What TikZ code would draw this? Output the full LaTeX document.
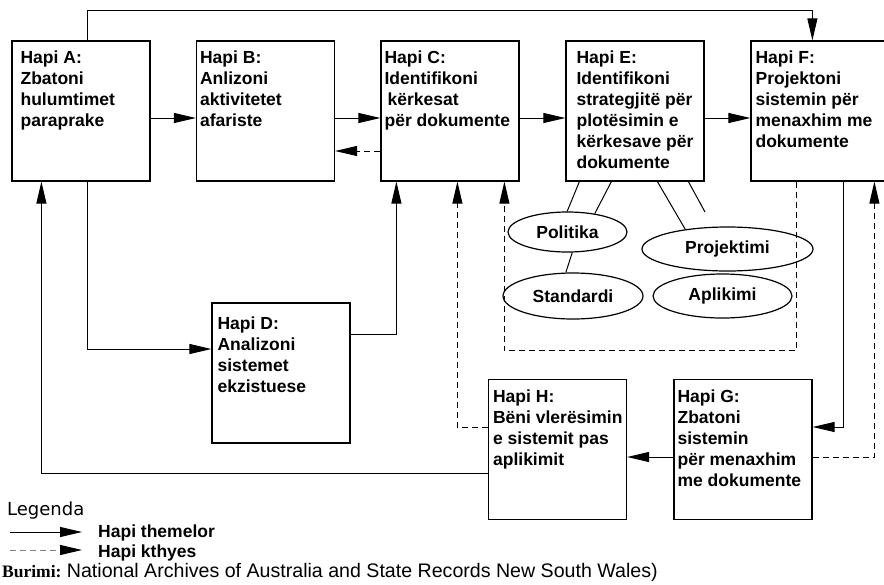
\documentclass[tikz,border=0pt]{standalone}
\usepackage{fontspec}
\setmainfont{Liberation Sans}
\newfontfamily\legfont{DejaVu Sans}
\newfontfamily\srcfont{Liberation Serif}
\usetikzlibrary{arrows.meta,calc,positioning,shapes.geometric}

\begin{document}
\begin{tikzpicture}[x=1pt,y=-1pt,
  stepbox/.style={draw,line width=1.2pt,minimum width=138pt,minimum height=140pt,inner sep=0pt},
  steptext/.style={anchor=north west,inner sep=0pt,align=left,font=\fontsize{17.5}{21}\selectfont\bfseries},
  optbox/.style={draw,ellipse,line width=1.2pt,inner sep=0pt,font=\fontsize{17.5}{21}\selectfont\bfseries},
  mainarrow/.style={line width=1pt,-{Triangle[length=22pt,width=10pt]}},
  backarrow/.style={mainarrow,dash pattern=on 6pt off 4pt},
  link/.style={line width=1pt},
  legtext/.style={anchor=base west,inner sep=0pt,font=\fontsize{17.5}{21}\selectfont\bfseries}]
  \useasboundingbox (0,0) rectangle (884,584);

  \node[stepbox] (A) at (81,111) {};
  \node[stepbox] (B) at (265.5,111) {};
  \node[stepbox] (C) at (450,111) {};
  \node[stepbox] (E) at (635,111) {};
  \node[stepbox] (F) at (820,111) {};
  \node[stepbox] (D) at (281,373) {};
  \node[stepbox] (H) at (557.5,449.5) {};
  \node[stepbox] (G) at (743,449.5) {};

  \node[steptext] (A-t) at ([shift={(9pt,-10pt)}]A.north west) {Hapi A:\\Zbatoni\\hulumtimet\\paraprake};
  \node[steptext] (B-t) at ([shift={(4pt,-10pt)}]B.north west) {Hapi B:\\Anlizoni\\aktivitetet\\afariste};
  \node[steptext] (C-t) at ([shift={(4pt,-10pt)}]C.north west) {Hapi C:\\Identifikoni\\\hspace{3pt}kërkesat\\për dokumente};
  \node[steptext] (E-t) at ([shift={(11pt,-10pt)}]E.north west) {Hapi E:\\Identifikoni\\strategjitë për\\plotësimin e\\kërkesave për\\dokumente};
  \node[steptext] (F-t) at ([shift={(5pt,-10pt)}]F.north west) {Hapi F:\\Projektoni\\sistemin për\\menaxhim me\\dokumente};
  \node[steptext] (D-t) at ([shift={(6pt,-14pt)}]D.north west) {Hapi D:\\Analizoni\\sistemet\\ekzistuese};
  \node[steptext] (H-t) at ([shift={(5pt,-11pt)}]H.north west) {Hapi H:\\Bëni vlerësimin\\e sistemit pas\\aplikimit};
  \node[steptext] (G-t) at ([shift={(4pt,-11pt)}]G.north west) {Hapi G:\\Zbatoni\\sistemin\\për menaxhim\\me dokumente};

  \node[optbox,minimum width=119pt,minimum height=40pt] (pol) at (567.5,232) {Politika};
  \node[optbox,minimum width=171pt,minimum height=44pt] (proj) at (727.5,249) {Projektimi};
  \node[optbox,minimum width=140pt,minimum height=46pt] (std) at (573,296) {Standardi};
  \node[optbox,minimum width=139pt,minimum height=44pt] (apl) at (722.5,296) {Aplikimi};

  \coordinate (A-up) at ([xshift=76pt]A.north west);
  \coordinate (A-down) at ([xshift=76pt]A.south west);
  \coordinate (F-in) at ([xshift=62pt]F.north west);
  \coordinate (E-end) at (705,212);

  \draw[mainarrow] (A-up) -- ++(0,-30) -| (F-in);
  \draw[mainarrow] ([yshift=-7pt]A.east) -- ([yshift=-7pt]B.west);
  \draw[mainarrow] ([yshift=-7pt]B.east) -- ([yshift=-7pt]C.west);
  \draw[mainarrow] ([yshift=-7pt]C.east) -- ([yshift=-7pt]E.west);
  \draw[mainarrow] ([yshift=-7pt]E.east) -- ([yshift=-7pt]F.west);
  \draw[backarrow] ([yshift=-40pt]C.west) -- ([yshift=-40pt]B.east);
  \draw[mainarrow] (A-down) |- ([yshift=24pt]D.west);
  \draw[mainarrow] ([yshift=39pt]D.east) -| ([xshift=16pt]C.south west);
  \draw[mainarrow] ([yshift=-23.5pt]H.west) -| ([xshift=30pt]A.south west);
  \draw[mainarrow] ([xshift=93pt]F.south west) |- ([yshift=22.5pt]G.east);
  \draw[mainarrow] ([yshift=-7.5pt]G.west) -- ([yshift=-7.5pt]H.east);
  \draw[backarrow] ([yshift=-7.5pt]G.east) -| ([xshift=124pt]F.south west);
  \draw[backarrow] ([yshift=22.5pt]H.west) -| ([xshift=77pt]C.south west);
  \draw[backarrow] ([xshift=46pt]F.south west) -- ++(0,169) -| ([xshift=124pt]C.south west);

  \draw[link] ([xshift=14pt]E.south west) -- (pol.91);
  \draw[link] ([xshift=46pt]E.south west) -- (pol.34);
  \draw[link] ([xshift=92pt]E.south west) -- (proj.155);
  \draw[link] ([xshift=123pt]E.south west) -- (E-end);
  \draw[link] (pol.-77) -- (std.107);

  \node[anchor=base west,inner sep=0pt,font=\legfont\fontsize{18}{20}\selectfont] (leg) at (7,515) {Legenda};
  \coordinate (l1a) at (10,532);
  \coordinate (l1b) at (82,532);
  \coordinate (l2a) at (10,550);
  \coordinate (l2b) at (82,550);
  \draw[mainarrow] (l1a) -- (l1b);
  \draw[backarrow,gray,-{Triangle[length=22pt,width=10pt,color=black]}] (l2a) -- (l2b);
  \node[legtext] (leg-main) at (98,537) {Hapi themelor};
  \node[legtext] (leg-back) at (98,557) {Hapi kthyes};
  \node[anchor=base west,inner sep=0pt,font=\srcfont\bfseries\fontsize{17.5}{20}\selectfont] (src) at (2,577) {Burimi:};
  \node[anchor=base west,inner sep=0pt,font=\fontsize{19.6}{22}\selectfont] (src-t) at ([xshift=5pt]src.base east) {National Archives of Australia and State Records New South Wales)};
\end{tikzpicture}
\end{document}
